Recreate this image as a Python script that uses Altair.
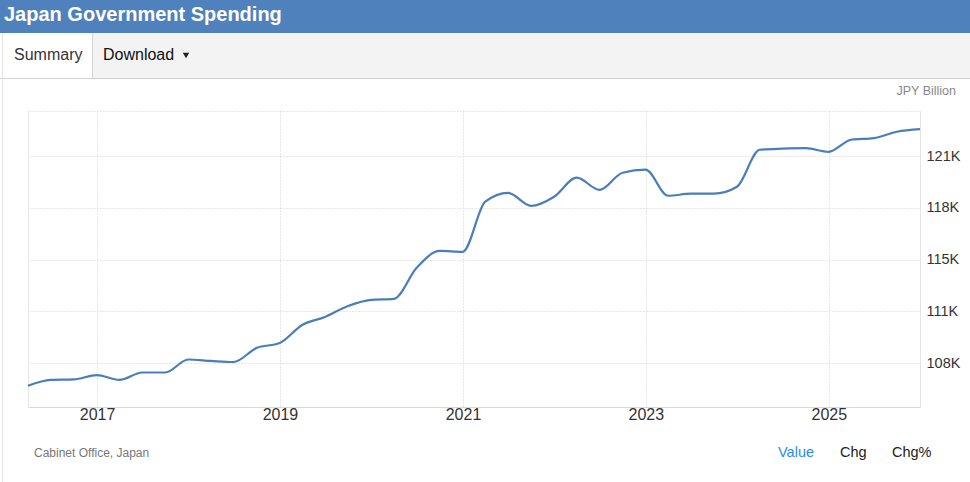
import altair as alt
import pandas as pd

FONT = "Liberation Sans"

quarters = [
    "2016-03-31", "2016-06-30", "2016-09-30", "2016-12-31",
    "2017-03-31", "2017-06-30", "2017-09-30", "2017-12-31",
    "2018-03-31", "2018-06-30", "2018-09-30", "2018-12-31",
    "2019-03-31", "2019-06-30", "2019-09-30", "2019-12-31",
    "2020-03-31", "2020-06-30", "2020-09-30", "2020-12-31",
    "2021-03-31", "2021-06-30", "2021-09-30", "2021-12-31",
    "2022-03-31", "2022-06-30", "2022-09-30", "2022-12-31",
    "2023-03-31", "2023-06-30", "2023-09-30", "2023-12-31",
    "2024-03-31", "2024-06-30", "2024-09-30", "2024-12-31",
    "2025-03-31", "2025-06-30", "2025-09-30", "2025-12-31",
]
spending = [
    106470, 106840, 106870, 107150,
    106840, 107310, 107310, 108140,
    108050, 107980, 108880, 109190,
    110340, 110850, 111550, 111940,
    112000, 113980, 115060, 115000,
    118190, 118760, 117930, 118510,
    119720, 118950, 120040, 120230,
    118570, 118700, 118700, 119140,
    121500, 121570, 121600, 121370,
    122140, 122240, 122650, 122810,
]
year_ticks = [2017, 2019, 2021, 2023, 2025]
y_ticks = [107900, 111200, 114500, 117800, 121100, 123970]
y_domain = [105113, 123970]

title_text = "Japan Government Spending"
unit_text = "JPY Billion"
source_text = "Cabinet Office, Japan"

df = pd.DataFrame({"date": quarters, "value": spending})

W, H = 892, 296
OX, OY = 28, 111  # plot origin on the page


def one():
    return pd.DataFrame({"t": [""]})


def txt(s, x, y, size, color, weight="normal", align="left"):
    return alt.Chart(pd.DataFrame({"t": [s]})).mark_text(
        align=align, baseline="middle", fontSize=size, color=color,
        fontWeight=weight, font=FONT
    ).encode(text="t:N", x=alt.value(x - OX), y=alt.value(y - OY))


def rect(x1, y1, x2, y2, color):
    return alt.Chart(one()).mark_rect(color=color).encode(
        x=alt.value(x1 - OX), x2=alt.value(x2 - OX),
        y=alt.value(y1 - OY), y2=alt.value(y2 - OY))


def hrule(x1, x2, y, color):
    return alt.Chart(one()).mark_rule(color=color, strokeWidth=1).encode(
        x=alt.value(x1 - OX), x2=alt.value(x2 - OX), y=alt.value(y - OY))


def vrule(x, y1, y2, color):
    return alt.Chart(one()).mark_rule(color=color, strokeWidth=1).encode(
        x=alt.value(x - OX), y=alt.value(y1 - OY), y2=alt.value(y2 - OY))


header = rect(0, 0, 970, 33, "#4f81bd")
toolbar = rect(0, 33, 970, 78, "#f3f3f3")
tab = rect(0, 33, 92, 78, "#ffffff")
tab_border = vrule(92.5, 33, 78, "#d6d6d6")
toolbar_bottom = hrule(0, 970, 78.5, "#d0d0d0")
page_left = vrule(2.5, 33, 482, "#e3e3e3")

title = txt(title_text, 4, 15, 20, "#ffffff", weight="bold")
summary = txt("Summary", 14, 55, 16, "#333333")
download = txt("Download", 103, 55, 16, "#111111")
caret = alt.Chart(one()).mark_point(shape="triangle-down", filled=True, size=42,
                                    color="#222222", opacity=1).encode(
    x=alt.value(186 - OX), y=alt.value(55.5 - OY))

unit = txt(unit_text, 956, 91, 12.5, "#888888", align="right")
source = txt(source_text, 34, 453, 12, "#777777")
value_lbl = txt("Value", 778, 453, 14.5, "#2a8de4")
chg_lbl = txt("Chg", 840, 453, 14.5, "#222222")
chgp_lbl = txt("Chg%", 892, 453, 14.5, "#222222")

left_border = vrule(28.5, 111, 407, "#e6e6e6")

line = alt.Chart(df).mark_line(
    color="#4a7ebb", strokeWidth=2.2, interpolate="monotone"
).encode(
    x=alt.X(
        "date:T",
        scale=alt.Scale(type="utc", domain=[
            alt.DateTime(year=2016, month=3, date=31, utc=True),
            alt.DateTime(year=2025, month=12, date=31, utc=True)]),
        axis=alt.Axis(
            title=None,
            values=[alt.DateTime(year=y, month=1, date=1, utc=True) for y in year_ticks],
            labelExpr="utcFormat(datum.value, '%Y')",
            labelFont=FONT, labelFontSize=16, labelColor="#333333",
            labelBaseline="middle", labelPadding=7,
            ticks=False, tickSize=0,
            domain=True, domainColor="#d8d8d8", domainWidth=1,
            grid=True, gridColor="#cfcfcf", gridDash=[1, 2], gridWidth=1,
        ),
    ),
    y=alt.Y(
        "value:Q",
        scale=alt.Scale(domain=y_domain, nice=False, zero=False),
        axis=alt.Axis(
            title=None, orient="right",
            values=y_ticks,
            labelExpr="datum.value > 123000 ? '' : round(datum.value / 1000) + 'K'",
            labelFont=FONT, labelFontSize=14.5, labelColor="#333333",
            labelPadding=6, labelBaseline="middle",
            ticks=False, tickSize=0,
            domain=True, domainColor="#e3e3e3", domainWidth=1,
            grid=True, gridColor="#cfcfcf", gridDash=[1, 2], gridWidth=1,
        ),
    ),
)

chart = alt.layer(
    header, toolbar, tab, tab_border, toolbar_bottom, page_left,
    title, summary, download, caret,
    unit, source, value_lbl, chg_lbl, chgp_lbl,
    left_border, line,
).properties(
    width=W, height=H,
    padding={"left": OX, "top": OY, "right": 970 - OX - W, "bottom": 482 - OY - H},
    autosize=alt.AutoSizeParams(type="none"),
    background="#ffffff",
).configure_view(stroke=None)

chart.save("out.html", embed_options={"renderer": "svg", "actions": False})
